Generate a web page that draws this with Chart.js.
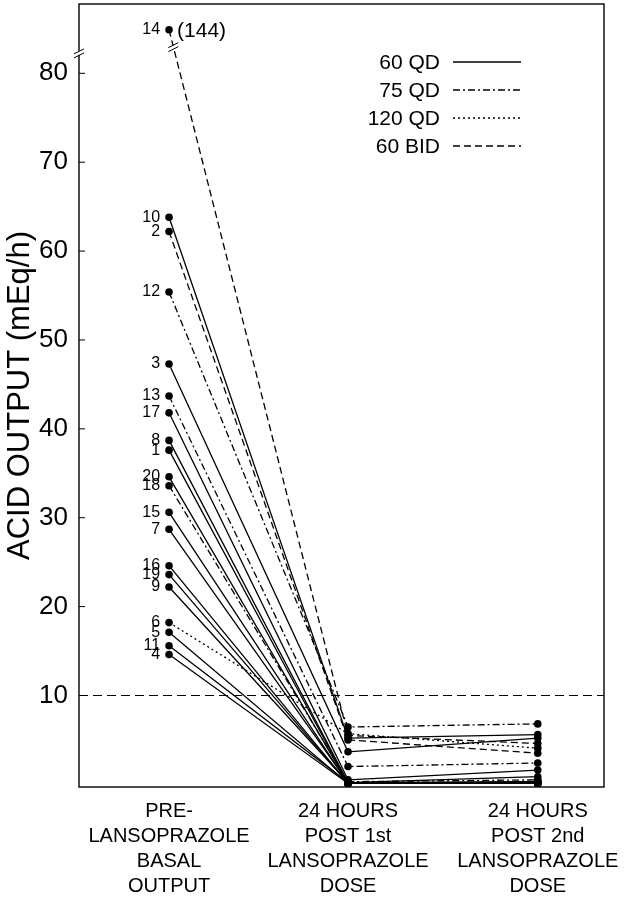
<!DOCTYPE html>
<html>
<head>
<meta charset="utf-8">
<script src="https://cdn.jsdelivr.net/npm/chart.js@4.4.1/dist/chart.umd.min.js"></script>
<style>
    html, body { margin: 0; padding: 0; background: #fff; }
    #wrap { width: 627px; height: 900px; }
</style>
</head>
<body>
<div id="wrap"><canvas id="acidChart" width="627" height="900"></canvas></div>
<script>
const subjects = ['14', '10', '2', '12', '3', '13', '17', '8', '1', '20', '18', '15', '7', '16', '19', '9', '6', '5', '11', '4'];
const doseGroups = ['60 BID', '60 QD', '60 BID', '75 QD', '60 QD', '75 QD', '60 QD', '60 QD', '60 QD', '60 QD',
    '75 QD', '60 QD', '60 QD', '60 QD', '60 QD', '60 QD', '120 QD', '60 QD', '60 QD', '60 QD'];
// basal value of subject 14 is 144, plotted above the axis break
const preValues = [84.9, 63.8, 62.2, 55.4, 47.3, 43.7, 41.8, 38.7, 37.6, 34.6, 33.6, 30.6, 28.7, 24.6, 23.6, 22.2, 18.2, 17.1, 15.6, 14.6];
const post1Values = [5.5, 5.2, 5.0, 6.45, 3.66, 2.0, 0.5, 0.2, 0.1, 0.1, 0.3, 0.1, 0.2, 0.1, 0.1, 0.2, 5.7, 0.1, 0.2, 0.1];
const post2Values = [4.6, 5.6, 3.5, 6.8, 5.2, 2.4, 1.6, 0.86, 0.3, 0.15, 0.5, 0.1, 0.2, 0.1, 0.2, 0.1, 4.07, 0.1, 0.3, 0.1];
const timeValues = [0, 1, 2.06];
const timeLabels = [
    ['PRE-', 'LANSOPRAZOLE', 'BASAL', 'OUTPUT'],
    ['24 HOURS', 'POST 1st', 'LANSOPRAZOLE', 'DOSE'],
    ['24 HOURS', 'POST 2nd', 'LANSOPRAZOLE', 'DOSE'],
];
const yTicks = [10, 20, 30, 40, 50, 60, 70, 80];
const doseNames = ['60 QD', '75 QD', '120 QD', '60 BID'];
const thresholdValue = 10;
const outlierLabel = '(144)';
const axisBreakValue = 82.3;

const xMin = -0.503;
const xMax = 2.43;
const FONT = "'Liberation Sans', Arial, Helvetica, sans-serif";

const dashFor = {
    '60 QD': [],
    '75 QD': [7, 3, 2, 3],
    '120 QD': [2, 3],
    '60 BID': [7, 4],
};

const subjectSets = subjects.map((name, i) => ({
    label: name,
    data: [preValues[i], post1Values[i], post2Values[i]].map((v, j) => ({ x: timeValues[j], y: v })),
    borderColor: '#000',
    borderWidth: 1.3,
    borderDash: dashFor[doseGroups[i]],
    pointRadius: 3.8,
    pointBackgroundColor: '#000',
    pointBorderWidth: 0,
    tension: 0,
}));

const thresholdSet = {
    label: 'threshold',
    data: [{ x: xMin, y: thresholdValue }, { x: xMax, y: thresholdValue }],
    borderColor: '#000',
    borderWidth: 1.1,
    borderDash: [9, 5],
    pointRadius: 0,
};

const framePlugin = {
    id: 'frame',
    afterDraw(chart) {
        const { ctx, chartArea: a, scales } = chart;
        ctx.save();
        ctx.strokeStyle = '#000';
        ctx.lineWidth = 1.4;
        ctx.strokeRect(a.left, a.top, a.right - a.left, a.bottom - a.top);

        // tick marks pointing inward
        ctx.lineWidth = 1;
        yTicks.forEach((t) => {
            const y = scales.y.getPixelForValue(t);
            ctx.beginPath();
            ctx.moveTo(a.left, y);
            ctx.lineTo(a.left + 6, y);
            ctx.stroke();
        });

        // axis break
        const by = scales.y.getPixelForValue(axisBreakValue);
        ctx.fillStyle = '#fff';
        ctx.fillRect(a.left - 2, by - 2, 4, 4);
        ctx.beginPath();
        ctx.moveTo(a.left - 5, by + 1);
        ctx.lineTo(a.left + 5, by - 4);
        ctx.moveTo(a.left - 5, by + 5);
        ctx.lineTo(a.left + 5, by);
        ctx.stroke();

        // break on the line of subject 14
        const meta = chart.getDatasetMeta(0);
        const p0 = meta.data[0];
        const p1 = meta.data[1];
        const ly = scales.y.getPixelForValue(83.0);
        const lx = p0.x + (p1.x - p0.x) * (ly - p0.y) / (p1.y - p0.y);
        ctx.fillRect(lx - 2, ly - 1, 4, 4);
        ctx.beginPath();
        ctx.moveTo(lx - 5, ly + 1);
        ctx.lineTo(lx + 5, ly - 4);
        ctx.moveTo(lx - 5, ly + 5);
        ctx.lineTo(lx + 5, ly);
        ctx.stroke();
        ctx.restore();
    },
};

const labelPlugin = {
    id: 'subjectLabels',
    afterDatasetsDraw(chart) {
        const { ctx } = chart;
        ctx.save();
        ctx.fillStyle = '#000';
        ctx.textBaseline = 'middle';
        subjects.forEach((name, i) => {
            const pt = chart.getDatasetMeta(i).data[0];
            ctx.font = `16px ${FONT}`;
            ctx.textAlign = 'right';
            ctx.fillText(name, pt.x - 9, pt.y);
            if (i === 0) {
                ctx.font = `21px ${FONT}`;
                ctx.textAlign = 'left';
                ctx.fillText(outlierLabel, pt.x + 8, pt.y + 1);
            }
        });
        ctx.restore();
    },
};

const legendPlugin = {
    id: 'doseLegend',
    afterDraw(chart) {
        const { ctx } = chart;
        ctx.save();
        ctx.fillStyle = '#000';
        ctx.strokeStyle = '#000';
        ctx.lineWidth = 1.3;
        ctx.font = `21px ${FONT}`;
        ctx.textAlign = 'right';
        ctx.textBaseline = 'middle';
        doseNames.forEach((name, i) => {
            const y = 62 + i * 28;
            ctx.fillText(name, 440, y + 1);
            ctx.setLineDash(dashFor[name]);
            ctx.beginPath();
            ctx.moveTo(453, y);
            ctx.lineTo(521, y);
            ctx.stroke();
        });
        ctx.restore();
    },
};

new Chart(document.getElementById('acidChart'), {
    type: 'line',
    data: { datasets: [...subjectSets, thresholdSet] },
    options: {
        responsive: false,
        animation: false,
        layout: { padding: { top: 2, right: 23, left: 0, bottom: 0 } },
        plugins: { legend: { display: false }, tooltip: { enabled: false } },
        scales: {
            x: {
                type: 'linear',
                min: xMin,
                max: xMax,
                grid: { display: false, drawTicks: false },
                border: { display: false },
                afterBuildTicks: (scale) => { scale.ticks = timeValues.map((v) => ({ value: v })); },
                afterFit: (scale) => {
                    scale.height = 113;
                    scale.paddingLeft = 0;
                    scale.paddingRight = 0;
                },
                ticks: {
                    autoSkip: false,
                    maxRotation: 0,
                    padding: 12,
                    color: '#000',
                    font: { family: FONT, size: 20, lineHeight: 1.25 },
                    callback: (v, i) => timeLabels[i],
                },
            },
            y: {
                min: -0.3,
                max: 87.8,
                grid: { display: false, drawTicks: false },
                border: { display: false },
                afterBuildTicks: (scale) => { scale.ticks = yTicks.map((v) => ({ value: v })); },
                afterFit: (scale) => {
                    scale.width = 79;
                    scale.paddingTop = 0;
                    scale.paddingBottom = 0;
                },
                ticks: {
                    padding: 11,
                    color: '#000',
                    font: { family: FONT, size: 26 },
                },
                title: {
                    display: true,
                    text: 'ACID OUTPUT (mEq/h)',
                    color: '#000',
                    font: { family: FONT, size: 31 },
                    padding: { top: 2, bottom: 0 },
                },
            },
        },
    },
    plugins: [framePlugin, labelPlugin, legendPlugin],
});
</script>
</body>
</html>
